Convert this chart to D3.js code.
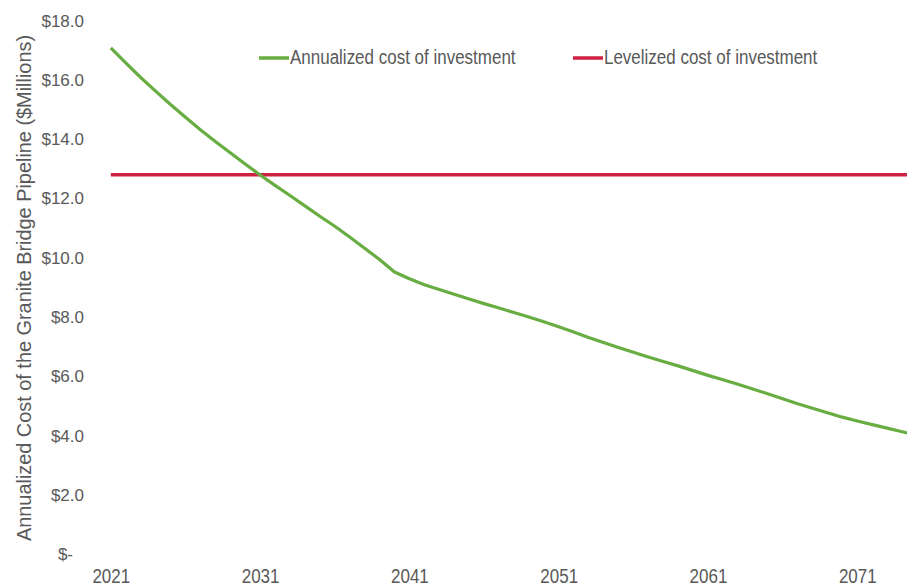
<!DOCTYPE html>
<html>
<head>
<meta charset="utf-8">
<script src="https://cdn.jsdelivr.net/npm/d3@7"></script>
<style>
  body { margin: 0; background: #fff; }
  svg text { font-family: "Liberation Sans", Arial, sans-serif; fill: #595959; }
</style>
</head>
<body>
<div id="chart"></div>
<script>
// years on the x axis
var years = d3.range(2021, 2076);
// annualized cost of investment, $ millions
var annualized = [
  17.06, 16.55, 16.06, 15.60, 15.15, 14.72, 14.30, 13.90, 13.52, 13.14,
  12.77, 12.42, 12.08, 11.73, 11.38, 11.04, 10.68, 10.30, 9.92, 9.50,
  9.27, 9.07, 8.91, 8.75, 8.59, 8.43, 8.28, 8.13, 7.98, 7.82,
  7.65, 7.47, 7.29, 7.12, 6.95, 6.79, 6.63, 6.48, 6.33, 6.17,
  6.01, 5.86, 5.71, 5.55, 5.39, 5.22, 5.05, 4.90, 4.75, 4.60,
  4.47, 4.35, 4.23, 4.11, 3.99
];
// levelized cost of investment, flat
var levelized = 12.78;
var yTicks = [0, 2, 4, 6, 8, 10, 12, 14, 16, 18];
var xTicks = [2021, 2031, 2041, 2051, 2061, 2071];
var seriesNames = ['Annualized cost of investment', 'Levelized cost of investment'];
var seriesColors = ['#68ad41', '#cf2241'];

var W = 907, H = 586;
var svg = d3.select('#chart').append('svg').attr('width', W).attr('height', H);

var x = d3.scaleLinear().domain([2021, 2075]).range([110.8, 110.8 + 54 * 14.93]);
var y = d3.scaleLinear().domain([0, 18]).range([553.5, 20]);

// y axis
var yAxis = svg.append('g')
  .attr('transform', 'translate(88,0)')
  .call(d3.axisLeft(y).tickValues(yTicks).tickSize(0).tickPadding(4)
    .tickFormat(function(d){ return d === 0 ? '$-' : '$' + d.toFixed(1); }));
yAxis.select('.domain').remove();
yAxis.selectAll('text')
  .attr('font-size', 17)
  .attr('dy', '0.36em')
  .attr('dx', function(d){ return d === 0 ? -11 : 0; });

// x axis
var xAxis = svg.append('g')
  .attr('transform', 'translate(0,553.5)')
  .call(d3.axisBottom(x).tickValues(xTicks).tickSize(0).tickFormat(d3.format('d')));
xAxis.select('.domain').remove();
xAxis.selectAll('text')
  .attr('font-size', 17)
  .attr('dy', 0)
  .attr('y', 24.8)
  .attr('transform', 'scale(1,1.17)');

// axis title
svg.append('text')
  .attr('transform', 'translate(31,288) rotate(-90)')
  .attr('text-anchor', 'middle')
  .attr('font-size', 19.5)
  .attr('textLength', 506)
  .attr('lengthAdjust', 'spacingAndGlyphs')
  .text('Annualized Cost of the Granite Bridge Pipeline ($Millions)');

// lines
var line = d3.line()
  .x(function(d, i){ return x(years[i]); })
  .y(function(d){ return y(d); });

svg.append('path')
  .datum([levelized, levelized])
  .attr('d', d3.line()
    .x(function(d, i){ return x(i === 0 ? years[0] : years[years.length - 1]); })
    .y(function(d){ return y(d); }))
  .attr('fill', 'none')
  .attr('stroke', seriesColors[1])
  .attr('stroke-width', 3.5);

svg.append('path')
  .datum(annualized)
  .attr('d', line)
  .attr('fill', 'none')
  .attr('stroke', seriesColors[0])
  .attr('stroke-width', 3.2)
  .attr('stroke-linejoin', 'round');

// legend
var legendX = [259, 573];
var leg = svg.selectAll('.leg')
  .data(seriesNames)
  .enter()
  .append('g')
    .attr('class', 'leg')
    .attr('transform', function(d, i){ return 'translate(' + legendX[i] + ',58)'; });
leg.append('line')
  .attr('x1', 0).attr('x2', 30)
  .attr('y1', 0).attr('y2', 0)
  .attr('stroke', function(d, i){ return seriesColors[i]; })
  .attr('stroke-width', 3.5);
leg.append('text')
  .attr('x', 31)
  .attr('y', 5.3)
  .attr('font-size', 17)
  .attr('transform', 'scale(1,1.15)')
  .text(function(d){ return d; });
</script>
</body>
</html>
